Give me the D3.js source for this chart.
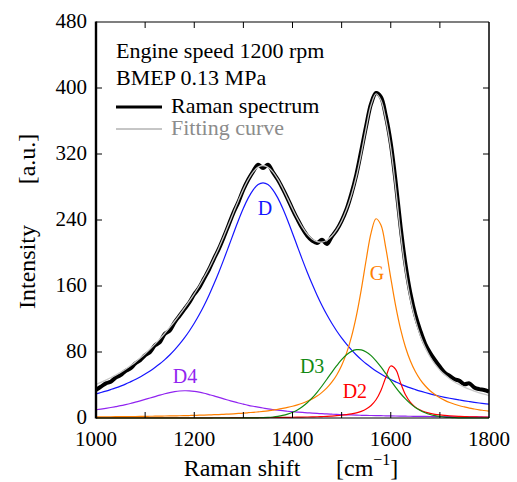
<!DOCTYPE html>
<html>
<head>
<meta charset="utf-8">
<script src="https://cdn.jsdelivr.net/npm/d3@7"></script>
<style>
  html, body { margin: 0; padding: 0; background: #fff; }
  svg { display: block; }
  text { font-family: "Liberation Serif", "Times New Roman", serif; }
</style>
</head>
<body>
<div id="chart"></div>
<script>
// Raman shift grid, cm^-1 (one reading every 10 cm^-1)
const shift = d3.range(1000, 1801, 10);

// measured spectrum [a.u.]
const spectrum = [
  34, 38, 42, 44, 49, 52, 57, 60, 66, 70,
  76, 80, 88, 92, 102, 106, 116, 124, 132, 140,
  150, 158, 169, 180, 193, 205, 219, 234, 249, 262,
  277, 289, 299, 307, 303, 307, 298, 289, 278, 266,
  253, 241, 230, 221, 215, 212, 216, 211, 220, 228,
  239, 253, 272, 295, 324, 354, 381, 394, 389, 366,
  333, 286, 232, 186, 151, 125, 106, 90, 79, 70,
  62, 55, 51, 47, 45, 41, 42, 37, 35, 34,
  32
];

// fitted bands
const bandD = [
  29.3, 30.9, 32.6, 34.5, 36.5, 38.7, 41.1, 43.8, 46.6, 49.8,
  53.2, 57.0, 61.2, 65.7, 70.8, 76.4, 82.6, 89.5, 97.1, 105.5,
  114.8, 125.1, 136.4, 148.8, 162.3, 176.7, 192.0, 207.9, 224.0, 239.7,
  254.2, 266.8, 276.6, 282.9, 285.0, 282.9, 276.6, 266.8, 254.2, 239.7,
  224.0, 207.9, 192.0, 176.7, 162.3, 148.8, 136.4, 125.1, 114.8, 105.5,
  97.1, 89.5, 82.6, 76.4, 70.8, 65.7, 61.2, 57.0, 53.2, 49.8,
  46.6, 43.8, 41.1, 38.7, 36.5, 34.5, 32.6, 30.9, 29.3, 27.8,
  26.4, 25.1, 23.9, 22.8, 21.8, 20.8, 19.9, 19.0, 18.2, 17.5,
  16.8
];
const bandD4 = [
  10.0, 10.8, 11.7, 12.7, 13.8, 14.9, 16.2, 17.6, 19.2, 20.8,
  22.5, 24.3, 26.0, 27.8, 29.4, 30.8, 31.9, 32.7, 33.0, 32.9,
  32.3, 31.3, 30.0, 28.4, 26.8, 25.0, 23.2, 21.5, 19.8, 18.2,
  16.8, 15.4, 14.2, 13.1, 12.1, 11.1, 10.3, 9.6, 8.9, 8.2,
  7.7, 7.2, 6.7, 6.3, 5.9, 5.5, 5.2, 4.9, 4.6, 4.4,
  4.1, 3.9, 3.7, 3.5, 3.3, 3.2, 3.0, 2.9, 2.8, 2.6,
  2.5, 2.4, 2.3, 2.2, 2.1, 2.0, 2.0, 1.9, 1.8, 1.7,
  1.7, 1.6, 1.6, 1.5, 1.5, 1.4, 1.4, 1.3, 1.3, 1.2,
  1.2
];
const bandG = [
  1.4, 1.4, 1.5, 1.5, 1.6, 1.6, 1.7, 1.8, 1.8, 1.9,
  2.0, 2.1, 2.2, 2.3, 2.4, 2.5, 2.6, 2.7, 2.9, 3.0,
  3.2, 3.4, 3.6, 3.8, 4.0, 4.2, 4.5, 4.8, 5.1, 5.5,
  5.9, 6.4, 6.9, 7.4, 8.0, 8.7, 9.6, 10.5, 11.6, 12.8,
  14.2, 15.9, 17.9, 20.3, 23.2, 26.7, 31.1, 36.5, 43.4, 52.2,
  63.6, 78.6, 98.3, 123.8, 155.7, 191.8, 224.5, 241.5, 233.9, 205.9,
  169.9, 135.9, 107.7, 85.8, 69.1, 56.4, 46.6, 39.1, 33.1, 28.4,
  24.5, 21.4, 18.8, 16.7, 14.9, 13.4, 12.0, 10.9, 9.9, 9.1,
  8.3
];
const bandD3 = [
  0, 0, 0, 0, 0, 0, 0, 0, 0, 0,
  0, 0, 0, 0, 0, 0, 0, 0, 0, 0,
  0, 0, 0, 0, 0, 0, 0, 0, 0, 0,
  0.04, 0.07, 0.14, 0.26, 0.45, 0.75, 1.24, 1.98, 3.1, 4.7,
  6.9, 9.8, 13.7, 18.5, 24.3, 31.2, 38.8, 47.0, 55.4, 63.4,
  70.7, 76.6, 80.8, 82.8, 82.6, 80.1, 75.6, 69.3, 61.9, 53.7,
  45.3, 37.2, 29.7, 23.1, 17.4, 12.8, 9.2, 6.4, 4.3, 2.8,
  1.8, 1.1, 0.7, 0.4, 0.23, 0.1, 0.05, 0, 0, 0,
  0
];
const bandD2 = [
  0.10, 0.10, 0.11, 0.11, 0.12, 0.12, 0.13, 0.13, 0.14, 0.14,
  0.15, 0.15, 0.16, 0.17, 0.18, 0.19, 0.20, 0.21, 0.22, 0.22,
  0.23, 0.24, 0.25, 0.26, 0.28, 0.29, 0.31, 0.33, 0.35, 0.37,
  0.40, 0.43, 0.46, 0.49, 0.53, 0.57, 0.62, 0.67, 0.73, 0.80,
  0.88, 0.97, 1.08, 1.21, 1.36, 1.54, 1.75, 2.02, 2.35, 2.76,
  3.3, 4.0, 4.9, 6.2, 8.1, 10.9, 15.2, 22.1, 33.4, 49.5,
  63.0, 59.0, 42.6, 28.2, 19.0, 13.2, 9.6, 7.3, 5.7, 4.5,
  3.7, 3.1, 2.6, 2.2, 1.9, 1.7, 1.5, 1.3, 1.2, 1.0,
  0.9
];

const bands = [
  { name: 'D4', values: bandD4, color: '#9124f0', lx: 1181, ly: 42 },
  { name: 'D',  values: bandD,  color: '#1515ff', lx: 1344, ly: 246 },
  { name: 'G',  values: bandG,  color: '#ff8000', lx: 1572, ly: 167 },
  { name: 'D2', values: bandD2, color: '#ff0000', lx: 1527, ly: 24 },
  { name: 'D3', values: bandD3, color: '#128a12', lx: 1440, ly: 54 }
];

// fitting curve = sum of the fitted bands
const fitting = shift.map((s, i) => d3.sum(bands, b => b.values[i]));

const yTicks = [0, 80, 160, 240, 320, 400, 480];
const xTicks = [1000, 1200, 1400, 1600, 1800];
const xMinorTicks = [1100, 1300, 1500, 1700];

const W = 517, H = 482;
const margin = { top: 22, right: 28, bottom: 64, left: 96 };

const svg = d3.select('#chart').append('svg')
  .attr('width', W)
  .attr('height', H);

const x = d3.scaleLinear().domain([1000, 1800]).range([margin.left, W - margin.right]);
const y = d3.scaleLinear().domain([0, 480]).range([H - margin.bottom, margin.top]);

svg.append('defs').append('clipPath').attr('id', 'plot-clip')
  .append('rect')
  .attr('x', x(1000)).attr('y', y(480))
  .attr('width', x(1800) - x(1000)).attr('height', y(0) - y(480) + 1);

const plot = svg.append('g').attr('clip-path', 'url(#plot-clip)');

const line = vals => d3.line()
  .x((d, i) => x(shift[i]))
  .y(d => y(d))
  .curve(d3.curveCatmullRom.alpha(0.5))(vals);

// spectrum (thick black) and fitting curve (thin grey) on top
plot.append('path')
  .attr('d', line(spectrum))
  .attr('fill', 'none')
  .attr('stroke', '#000')
  .attr('stroke-width', 4)
  .attr('stroke-linejoin', 'round');

plot.append('path')
  .attr('d', line(fitting))
  .attr('fill', 'none')
  .attr('stroke', '#c8c8c8')
  .attr('stroke-width', 1.3);

// bands
bands.forEach(b => {
  plot.append('path')
    .attr('d', line(b.values))
    .attr('fill', 'none')
    .attr('stroke', b.color)
    .attr('stroke-width', 1.2);
});

// band labels
svg.selectAll('.band-label').data(bands)
  .join('text')
  .attr('class', 'band-label')
  .attr('x', d => x(d.lx))
  .attr('y', d => y(d.ly))
  .attr('text-anchor', 'middle')
  .attr('font-size', '20px')
  .attr('fill', d => d.color)
  .text(d => d.name);

// frame
const x0 = x(1000), x1 = x(1800), y0 = y(0), y1 = y(480);
svg.append('line').attr('x1', x0).attr('x2', x1).attr('y1', y1).attr('y2', y1)
  .attr('stroke', '#000').attr('stroke-width', 1.2);
svg.append('line').attr('x1', x1).attr('x2', x1).attr('y1', y1).attr('y2', y0)
  .attr('stroke', '#000').attr('stroke-width', 1.5);
svg.append('line').attr('x1', x0).attr('x2', x1).attr('y1', y0).attr('y2', y0)
  .attr('stroke', '#000').attr('stroke-width', 1.2);
svg.append('line').attr('x1', x0).attr('x2', x0).attr('y1', y1 - 0.6).attr('y2', y0 + 0.6)
  .attr('stroke', '#000').attr('stroke-width', 2.4);

// ticks (inward, all four sides)
const tickLen = 6;
const ticks = svg.append('g').attr('stroke', '#000').attr('stroke-width', 1);
yTicks.slice(1, -1).forEach(v => {
  ticks.append('line').attr('x1', x0).attr('x2', x0 + tickLen).attr('y1', y(v)).attr('y2', y(v));
  ticks.append('line').attr('x1', x1).attr('x2', x1 - tickLen).attr('y1', y(v)).attr('y2', y(v));
});
xTicks.slice(1, -1).concat(xMinorTicks).forEach(v => {
  ticks.append('line').attr('x1', x(v)).attr('x2', x(v)).attr('y1', y0).attr('y2', y0 - tickLen);
  ticks.append('line').attr('x1', x(v)).attr('x2', x(v)).attr('y1', y1).attr('y2', y1 + tickLen);
});

// tick labels
svg.selectAll('.ytl').data(yTicks)
  .join('text')
  .attr('class', 'ytl')
  .attr('x', x0 - 9)
  .attr('y', d => y(d) + 6)
  .attr('text-anchor', 'end')
  .attr('font-size', '21px')
  .text(d => d);

svg.selectAll('.xtl').data(xTicks)
  .join('text')
  .attr('class', 'xtl')
  .attr('x', d => x(d))
  .attr('y', y0 + 28)
  .attr('text-anchor', 'middle')
  .attr('font-size', '21px')
  .text(d => d);

// axis titles
svg.append('text')
  .attr('x', 242).attr('y', 476)
  .attr('text-anchor', 'middle')
  .attr('font-size', '24px')
  .text('Raman shift');
const unit = svg.append('text')
  .attr('x', 336).attr('y', 476)
  .attr('font-size', '24px');
unit.append('tspan').text('[cm');
unit.append('tspan').attr('dy', -11).attr('font-size', '16px').text('\u22121');
unit.append('tspan').attr('dy', 11).text(']');

svg.append('text')
  .attr('transform', 'translate(35,267) rotate(-90)')
  .attr('text-anchor', 'middle')
  .attr('font-size', '24px')
  .text('Intensity');
svg.append('text')
  .attr('transform', 'translate(35,159) rotate(-90)')
  .attr('text-anchor', 'middle')
  .attr('font-size', '24px')
  .text('[a.u.]');

// condition notes and legend
svg.append('text').attr('x', 116).attr('y', 58).attr('font-size', '22px')
  .text('Engine speed 1200 rpm');
svg.append('text').attr('x', 116).attr('y', 85).attr('font-size', '22px')
  .text('BMEP 0.13 MPa');

const legend = [
  { label: 'Raman spectrum', color: '#000', text: '#000', width: 3.2, y: 113 },
  { label: 'Fitting curve', color: '#8c8c8c', text: '#8c8c8c', width: 1, y: 135 }
];
const lg = svg.append('g');
legend.forEach(d => {
  lg.append('line')
    .attr('x1', 116).attr('x2', 162)
    .attr('y1', d.y - 6).attr('y2', d.y - 6)
    .attr('stroke', d.color).attr('stroke-width', d.width);
  lg.append('text')
    .attr('x', 171).attr('y', d.y)
    .attr('font-size', '22px')
    .attr('fill', d.text)
    .text(d.label);
});
</script>
</body>
</html>
